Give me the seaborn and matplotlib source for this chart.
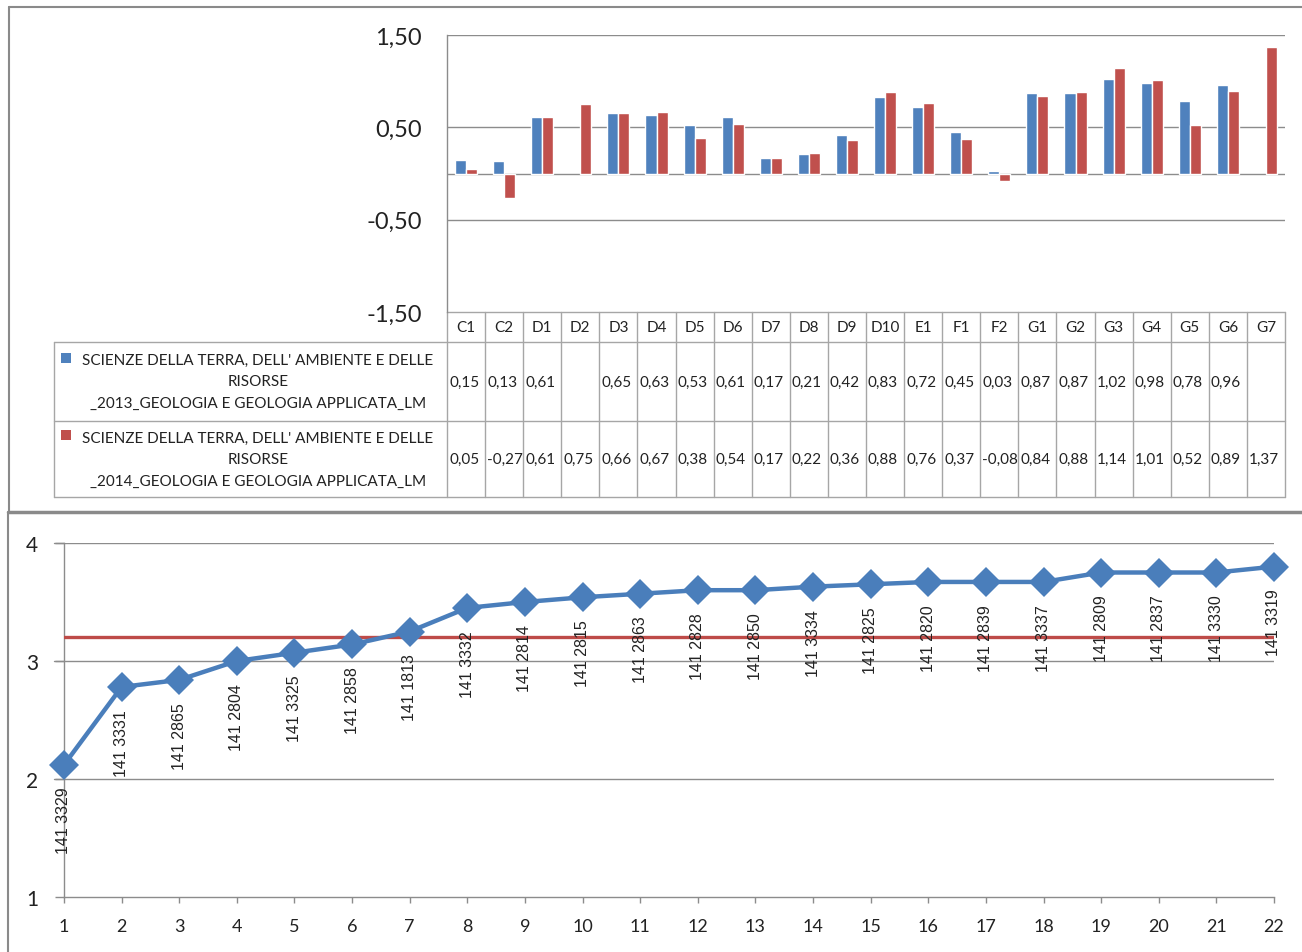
import numpy as np
import pandas as pd
import seaborn as sns
import matplotlib.pyplot as plt

# ---- data -------------------------------------------------------------
categories = ["C1", "C2", "D1", "D2", "D3", "D4", "D5", "D6", "D7", "D8", "D9",
              "D10", "E1", "F1", "F2", "G1", "G2", "G3", "G4", "G5", "G6", "G7"]
vals_2013 = [0.15, 0.13, 0.61, np.nan, 0.65, 0.63, 0.53, 0.61, 0.17, 0.21, 0.42,
             0.83, 0.72, 0.45, 0.03, 0.87, 0.87, 1.02, 0.98, 0.78, 0.96, np.nan]
vals_2014 = [0.05, -0.27, 0.61, 0.75, 0.66, 0.67, 0.38, 0.54, 0.17, 0.22, 0.36,
             0.88, 0.76, 0.37, -0.08, 0.84, 0.88, 1.14, 1.01, 0.52, 0.89, 1.37]
series_names = [
    "SCIENZE DELLA TERRA, DELL' AMBIENTE E DELLE\nRISORSE\n_2013_GEOLOGIA E GEOLOGIA APPLICATA_LM",
    "SCIENZE DELLA TERRA, DELL' AMBIENTE E DELLE\nRISORSE\n_2014_GEOLOGIA E GEOLOGIA APPLICATA_LM",
]
bar_ticks = [-1.5, -0.5, 0.5, 1.5]

positions = list(range(1, 23))
scores = [2.12, 2.78, 2.84, 3.00, 3.07, 3.14, 3.25, 3.45, 3.50, 3.54, 3.57,
          3.60, 3.60, 3.63, 3.65, 3.67, 3.67, 3.67, 3.75, 3.75, 3.75, 3.80]
point_labels = ["141 3329", "141 3331", "141 2865", "141 2804", "141 3325",
                "141 2858", "141 1813", "141 3332", "141 2814", "141 2815",
                "141 2863", "141 2828", "141 2850", "141 3334", "141 2825",
                "141 2820", "141 2839", "141 3337", "141 2809", "141 2837",
                "141 3330", "141 3319"]
threshold = 3.20

BLUE = "#4F81BD"
RED = "#C0504D"
GRID = "#8C8C8C"
CELL = "#A6A6A6"

sns.set_theme(style="white")
plt.rcParams["font.family"] = ["Lato", "DejaVu Sans"]

W, H = 1302, 953
fig = plt.figure(figsize=(W / 100, H / 100), dpi=100)


def rect(l, t, r, b):
    return [l / W, 1 - b / H, (r - l) / W, (b - t) / H]


# overlay in pixel units for frames and the data table
ov = fig.add_axes([0, 0, 1, 1], zorder=0)
ov.set_xlim(0, W)
ov.set_ylim(H, 0)
ov.axis("off")
ov.patch.set_alpha(0)

# panel frames
ov.plot([9, W], [8, 8], color="#8A8A8A", lw=1.5)
ov.plot([9, 9], [8, 513], color="#8A8A8A", lw=1.5)
ov.plot([8, W], [513, 513], color="#8A8A8A", lw=2.5)
ov.plot([8, 8], [513, H], color="#8A8A8A", lw=1.5)

# ---- top: bar chart ------------------------------------------------------
x_l, x_r = 447, 1285
y_t, y_b = 36, 313
axb = fig.add_axes(rect(x_l, y_t, x_r, y_b), zorder=1)
axb.patch.set_alpha(0)

df = pd.DataFrame({
    "cat": categories * 2,
    "val": vals_2013 + vals_2014,
    "series": ["2013"] * len(categories) + ["2014"] * len(categories),
})
sns.barplot(data=df, x="cat", y="val", hue="series", order=categories,
            palette=[BLUE, RED], width=0.58, errorbar=None, legend=False,
            saturation=1, ax=axb, zorder=3)
axb.set_xlim(-0.5, len(categories) - 0.5)
axb.set_ylim(-1.5, 1.5)
axb.set_yticks(bar_ticks)
axb.set_yticklabels([f"{v:.2f}".replace(".", ",") for v in bar_ticks],
                    fontsize=17, color="#222222")
axb.tick_params(axis="y", length=0, pad=18)
axb.set_xticks([])
axb.set_xlabel("")
axb.set_ylabel("")
for y in bar_ticks[1:]:
    axb.axhline(y, color=GRID, lw=1, zorder=1)
axb.axhline(0, color=GRID, lw=1, zorder=1)
for s in ["top", "right", "bottom"]:
    axb.spines[s].set_visible(False)
axb.spines["left"].set_color(GRID)
axb.spines["left"].set_linewidth(1)

# data table under the bar chart
cw = (x_r - x_l) / len(categories)
rows = [313, 343, 422, 498]
leg_l = 54
ov.plot([x_l, x_r], [rows[0], rows[0]], color=CELL, lw=1)
for yy in rows[1:]:
    ov.plot([leg_l, x_r], [yy, yy], color=CELL, lw=1)
ov.plot([leg_l, leg_l], [rows[1], rows[3]], color=CELL, lw=1)
for i in range(len(categories) + 1):
    xx = x_l + i * cw
    ov.plot([xx, xx], [rows[0], rows[3]], color=CELL, lw=1)

for i, c in enumerate(categories):
    ov.text(x_l + (i + 0.5) * cw, (rows[0] + rows[1]) / 2, c,
            ha="center", va="center", fontsize=11, color="#222222")

for r, (vals, name, col) in enumerate(zip([vals_2013, vals_2014],
                                           series_names, [BLUE, RED])):
    yc = (rows[r + 1] + rows[r + 2]) / 2
    for i, v in enumerate(vals):
        if np.isnan(v):
            continue
        ov.text(x_l + i * cw + 2, yc, f"{v:.2f}".replace(".", ","),
                ha="left", va="center", fontsize=11, color="#222222")
    ov.text(258, yc, name, ha="center", va="center", fontsize=11,
            color="#222222", linespacing=1.68)
    ov.plot([66], [yc - 24], marker="s", ms=7, color=col, mew=0)

# ---- bottom: line chart --------------------------------------------------
axl = fig.add_axes(rect(64, 544, 1274, 898), zorder=1)
axl.patch.set_alpha(0)
sns.lineplot(x=positions, y=scores, ax=axl, color="#4A7EBB", lw=3.2,
             marker="D", markersize=15, markeredgewidth=0, clip_on=False,
             zorder=4)
axl.axhline(threshold, color="#BE4B48", lw=2.4, zorder=3)
axl.set_xlim(1, 22)
axl.set_ylim(1, 4)
axl.set_xticks(positions)
axl.set_yticks([1, 2, 3, 4])
axl.tick_params(axis="x", labelsize=13, length=4, width=1, color=GRID,
                pad=11, direction="out", bottom=True, labelcolor="#222222")
axl.tick_params(axis="y", labelsize=15, length=6.5, width=1, color=GRID,
                pad=12, direction="out", left=True, labelcolor="#222222")
for y in [2, 3, 4]:
    axl.axhline(y, color=GRID, lw=1, zorder=1)
    axl.plot([-0.008, 0], [y, y], transform=axl.get_yaxis_transform(),
             color=GRID, lw=1, clip_on=False)
for s in ["top", "right"]:
    axl.spines[s].set_visible(False)
for s in ["left", "bottom"]:
    axl.spines[s].set_color(GRID)
    axl.spines[s].set_linewidth(1)

for xp, yp, lab in zip(positions, scores, point_labels):
    axl.annotate(lab, (xp, yp), xytext=(0, -22), textcoords="offset pixels",
                 rotation=90, ha="center", va="top", fontsize=11.5,
                 family=["Liberation Sans", "DejaVu Sans"], color="#222222",
                 annotation_clip=False, zorder=5)

fig.savefig("out.png", dpi=100)
